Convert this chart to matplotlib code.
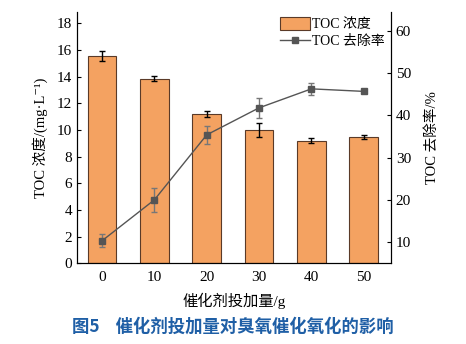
import matplotlib
matplotlib.use("Agg")
import matplotlib.pyplot as plt
from matplotlib.lines import Line2D
import numpy as np

plt.rcParams['font.family'] = ['Liberation Serif', 'Noto Sans CJK SC', 'DejaVu Serif']
plt.rcParams['axes.unicode_minus'] = False

# data
dosage = ["0", "10", "20", "30", "40", "50"]
toc_conc = [15.55, 13.85, 11.2, 10.0, 9.2, 9.5]
toc_conc_err = [0.35, 0.2, 0.25, 0.55, 0.2, 0.15]
removal = [10.3, 20.0, 35.4, 41.8, 46.3, 45.7]
removal_err = [1.5, 2.8, 2.2, 2.4, 1.5, 0.0]

x = np.arange(len(dosage))

fig = plt.figure(figsize=(4.66, 3.44), dpi=100)
ax = fig.add_axes([0.165, 0.235, 0.674, 0.73])

bars = ax.bar(x, toc_conc, width=0.55, color="#F4A261", edgecolor="#5a3a28", linewidth=0.8,
              label="TOC 浓度", zorder=2)
ax.errorbar(x, toc_conc, yerr=toc_conc_err, fmt="none", ecolor="black",
            elinewidth=1.0, capsize=2.5, capthick=1.0, zorder=3)

ax.set_xlim(-0.48, 5.52)
ax.set_ylim(0, 18.85)
ax.set_yticks(range(0, 19, 2))
ax.set_xticks(x)
ax.set_xticklabels(dosage)
ax.tick_params(axis='y', direction='in', length=3, labelsize=11)
ax.tick_params(axis='x', length=0, labelsize=11, pad=6)
ax.spines['top'].set_visible(False)
ax.set_ylabel("TOC 浓度/(mg·L\u207b\u00b9)", fontsize=10.5, labelpad=6)
ax.set_xlabel("催化剂投加量/g", fontsize=11, labelpad=6)

ax2 = ax.twinx()
ax2.errorbar(x, removal, yerr=removal_err, color="#555555", marker="s", markersize=4.5,
             linewidth=1.0, elinewidth=1.0, capsize=2.5, capthick=1.0, ecolor="#777777",
             zorder=4)
ax2.set_ylim(5, 64.5)
ax2.set_yticks(range(10, 61, 10))
ax2.tick_params(axis='y', direction='in', length=3, labelsize=11)
ax2.spines['top'].set_visible(False)
ax2.set_ylabel("TOC 去除率/%", fontsize=10.5, labelpad=10)

line_handle = Line2D([], [], color="#555555", marker="s", markersize=4.5, linewidth=1.0)
ax2.legend([bars, line_handle], ["TOC 浓度", "TOC 去除率"], loc="upper right",
           bbox_to_anchor=(1.01, 1.02), frameon=False, fontsize=10, handlelength=2.2,
           handleheight=1.1, handletextpad=0.1, borderpad=0.2, labelspacing=0.2)

fig.text(0.5, 0.05, "图5    催化剂投加量对臭氧催化氧化的影响", ha="center", va="center",
         fontsize=12.5, color="#1f5fa6", fontweight="bold", family=['Noto Sans CJK SC'])

fig.savefig("out.png", dpi=100)
